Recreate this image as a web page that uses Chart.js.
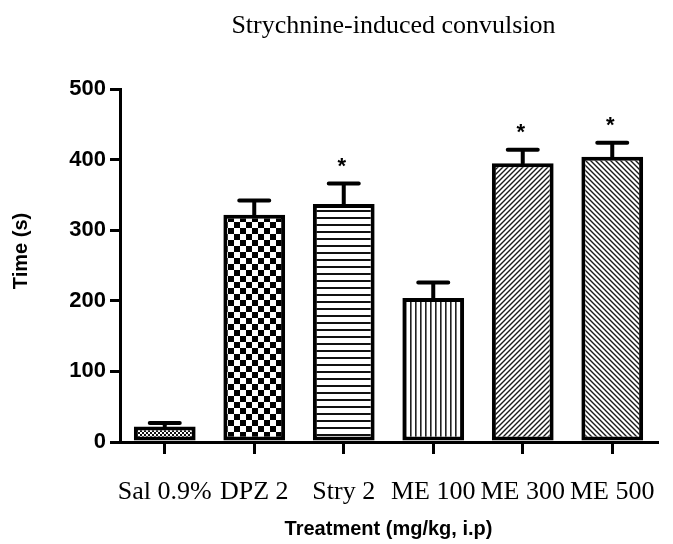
<!DOCTYPE html>
<html>
<head>
<meta charset="utf-8">
<script src="https://cdn.jsdelivr.net/npm/chart.js@4.4.1/dist/chart.umd.min.js"></script>
<style>
  html, body { margin: 0; padding: 0; background: #fff; }
  #wrap { width: 673px; height: 544px; position: relative; }
</style>
</head>
<body>
<div id="wrap"><canvas id="c" width="673" height="544"></canvas></div>
<script>
// ---- data ----
const chartTitle = 'Strychnine-induced convulsion';
const categories = ['Sal 0.9%', 'DPZ 2', 'Stry 2', 'ME 100', 'ME 300', 'ME 500'];
const meanTime = [22, 322, 337, 204, 395, 404];
const semTime = [5, 20, 29, 22, 19, 20];
const significant = [false, false, true, false, true, true];
const yTickValues = [0, 100, 200, 300, 400, 500];
const xAxisTitle = 'Treatment (mg/kg, i.p)';
const yAxisTitle = 'Time (s)';
const fillKinds = ['fineCheck', 'check', 'hLines', 'vLines', 'diagUp', 'diagDown'];

// ---- patterns ----
function makePattern(kind) {
  const c = document.createElement('canvas');
  const g = c.getContext('2d');
  let w = 5, h = 5;
  if (kind === 'fineCheck') { w = h = 4; }
  if (kind === 'check') { w = h = 12; }
  if (kind === 'hLines') { w = 7; h = 7; }
  c.width = w; c.height = h;
  g.fillStyle = '#fff'; g.fillRect(0, 0, w, h);
  g.fillStyle = '#000'; g.strokeStyle = '#1a1a1a';
  if (kind === 'fineCheck') {
    g.fillStyle = '#111'; g.fillRect(0, 0, 4, 4);
    g.fillStyle = '#fff'; g.fillRect(0, 0, 2, 2); g.fillRect(2, 2, 2, 2);
  } else if (kind === 'check') {
    g.fillRect(0, 0, 6, 6); g.fillRect(6, 6, 6, 6);
  } else if (kind === 'hLines') {
    g.fillStyle = '#111'; g.fillRect(0, 0, 7, 2);
  } else if (kind === 'vLines') {
    g.fillStyle = '#222'; g.fillRect(0, 0, 1.6, 5);
  } else if (kind === 'diagUp' || kind === 'diagDown') {
    g.lineWidth = 1.4;
    g.beginPath();
    if (kind === 'diagUp') {
      g.moveTo(-1, 1); g.lineTo(1, -1);
      g.moveTo(0, 5); g.lineTo(5, 0);
      g.moveTo(4, 6); g.lineTo(6, 4);
    } else {
      g.moveTo(-1, 4); g.lineTo(1, 6);
      g.moveTo(0, 0); g.lineTo(5, 5);
      g.moveTo(4, -1); g.lineTo(6, 1);
    }
    g.stroke();
  }
  return document.getElementById('c').getContext('2d').createPattern(c, 'repeat');
}
const fills = fillKinds.map(makePattern);

// ---- plugins ----
const errorBarPlugin = {
  id: 'errorBars',
  afterDatasetsDraw(chart) {
    const ctx = chart.ctx;
    const meta = chart.getDatasetMeta(0);
    const y = chart.scales.y;
    ctx.save();
    ctx.strokeStyle = '#000';
    ctx.lineWidth = 4;
    ctx.lineCap = 'round';
    meta.data.forEach((bar, i) => {
      const top = y.getPixelForValue(meanTime[i]);
      const cap = y.getPixelForValue(meanTime[i] + semTime[i]);
      ctx.beginPath();
      ctx.moveTo(bar.x, top);
      ctx.lineTo(bar.x, cap);
      ctx.moveTo(bar.x - 15, cap);
      ctx.lineTo(bar.x + 15, cap);
      ctx.stroke();
      if (significant[i]) {
        ctx.fillStyle = '#000';
        ctx.font = 'bold 22px "Liberation Sans", Arial, sans-serif';
        ctx.textAlign = 'center';
        ctx.textBaseline = 'alphabetic';
        ctx.fillText('*', bar.x - 2, cap - 23 + 12.5);
      }
    });
    ctx.restore();
  }
};

const titlesPlugin = {
  id: 'titles',
  afterDraw(chart) {
    const ctx = chart.ctx;
    const a = chart.chartArea;
    ctx.save();
    ctx.fillStyle = '#000';
    ctx.textAlign = 'center';
    ctx.textBaseline = 'middle';
    ctx.font = '26px "Liberation Serif", "Times New Roman", serif';
    ctx.fillText(chartTitle, (a.left + a.right) / 2 + 5, 26);
    ctx.translate(21, 251);
    ctx.rotate(-Math.PI / 2);
    ctx.font = 'bold 20px "Liberation Sans", Arial, sans-serif';
    ctx.fillText(yAxisTitle, 0, 0);
    ctx.restore();
  }
};

// ---- chart ----
new Chart(document.getElementById('c'), {
  type: 'bar',
  data: {
    labels: categories,
    datasets: [{
      data: meanTime,
      backgroundColor: fills,
      borderColor: '#000',
      borderWidth: 4,
      borderSkipped: false,
      barPercentage: 0.69,
      categoryPercentage: 1.0
    }]
  },
  options: {
    responsive: false,
    animation: false,
    devicePixelRatio: 1,
    layout: { padding: { top: 89, right: 16, left: 0, bottom: 0 } },
    plugins: {
      legend: { display: false },
      title: { display: false },
      tooltip: { enabled: false }
    },
    scales: {
      x: {
        offset: true,
        grid: {
          display: true, drawOnChartArea: false, drawTicks: true,
          tickLength: 12, color: '#000', lineWidth: 3, offset: false
        },
        border: { display: true, color: '#000', width: 3 },
        ticks: {
          color: '#000', padding: 23, maxRotation: 0, autoSkip: false,
          font: { family: '"Liberation Serif", "Times New Roman", serif', size: 26 }
        },
        title: {
          display: true, text: xAxisTitle, color: '#000',
          font: { family: '"Liberation Sans", Arial, sans-serif', size: 20, weight: 'bold' },
          padding: { top: 0, bottom: 3 }
        },
        afterFit(scale) {
          scale.height = 102;
          scale.paddingLeft = 0;
          scale.paddingRight = 0;
        }
      },
      y: {
        min: 0, max: 500,
        afterBuildTicks(scale) { scale.ticks = yTickValues.map(v => ({ value: v })); },
        grid: {
          display: true, drawOnChartArea: false, drawTicks: true,
          tickLength: 10, color: '#000', lineWidth: 3
        },
        border: { display: true, color: '#000', width: 3 },
        ticks: {
          color: '#000', padding: 4,
          font: { family: '"Liberation Sans", Arial, sans-serif', size: 22, weight: 'bold' }
        },
        afterFit(scale) {
          scale.width = 120;
          scale.paddingTop = 0;
          scale.paddingBottom = 0;
        }
      }
    }
  },
  plugins: [errorBarPlugin, titlesPlugin]
});
</script>
</body>
</html>
